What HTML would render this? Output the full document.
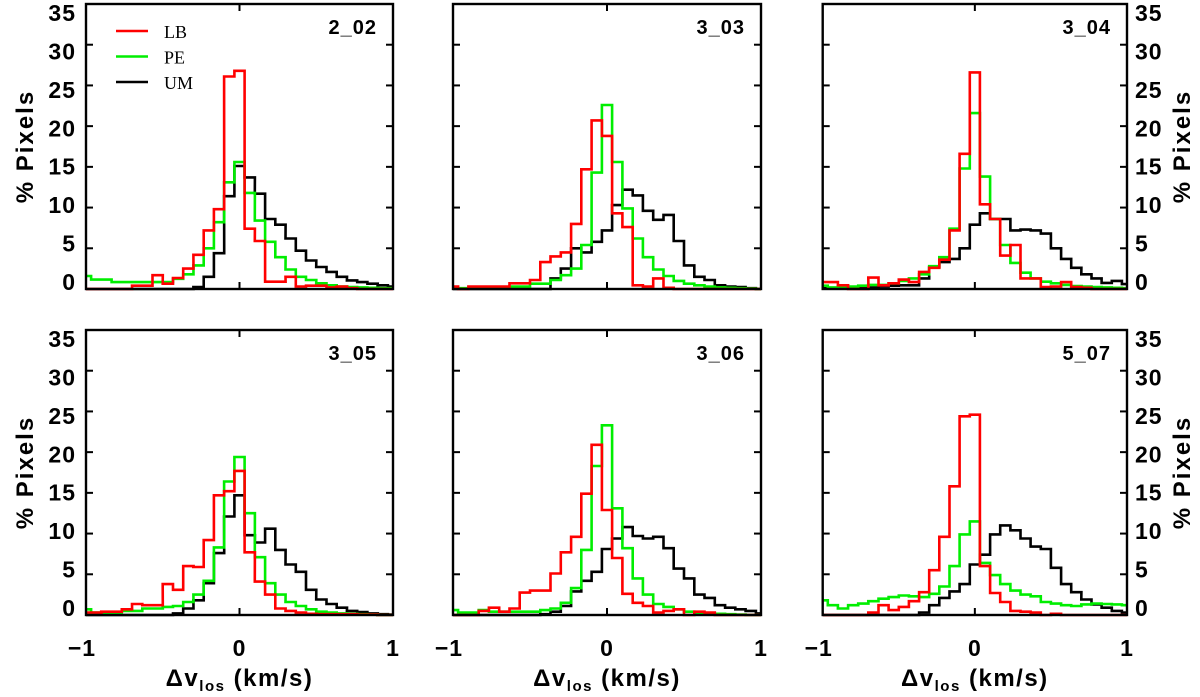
<!DOCTYPE html>
<html><head><meta charset="utf-8"><style>
body{margin:0;background:#fff}
svg{display:block;font-family:"Liberation Sans",sans-serif}
.tk{font-size:23px;font-weight:bold;letter-spacing:1px}
</style></head><body>
<svg id="fig" width="1200" height="697" viewBox="0 0 1200 697"></svg>
<script>
const binCenters=[-1,-0.9333,-0.8667,-0.8,-0.7333,-0.6667,-0.6,-0.5333,-0.4667,-0.4,-0.3333,-0.2667,-0.2,-0.1333,-0.0667,0,0.0667,0.1333,0.2,0.2667,0.3333,0.4,0.4667,0.5333,0.6,0.6667,0.7333,0.8,0.8667,0.9333,1];
const yTickLabels=["0","5","10","15","20","25","30","35"];
const yTickValues=[0,5,10,15,20,25,30,35];
const xTickLabels=["\u22121","0","1"];
const xTickValues=[-1,0,1];
const panelNames=["2_02","3_03","3_04","3_05","3_06","5_07"];
const lb_2_02=[0,0,0,0,0,0.4,0.4,1.7,0.65,1.35,2.5,4.2,7.2,9.8,26.1,26.8,7.4,5.9,0.9,0.9,1.5,0.3,0.4,0.4,0.2,0.3,0.1,0,0,0,0];
const pe_2_02=[1.6,1.15,1.15,0.85,0.85,0.85,0.85,0.85,0.85,1.25,1.8,2.9,5.0,8.2,13.1,15.6,11.8,8.4,5.8,3.9,2.4,1.5,1.1,0.7,0.45,0.3,0.25,0.2,0.15,0.1,0.1];
const um_2_02=[0,0,0,0,0,0,0,0,0,0,0,0.25,1.5,4.4,11.4,15.1,13.7,11.7,8.6,7.9,6.2,4.7,3.5,2.7,2.1,1.5,1.05,0.85,0.65,0.45,0.3];
const lb_3_03=[0.3,0,0.3,0.3,0.3,0.3,0.7,0.7,1.1,3.3,4.0,4.5,8.0,14.7,20.7,18.8,9.3,7.6,0.45,0.3,1.3,0.15,0,0,0,0,0,0,0,0,0];
const pe_3_03=[0.1,0.1,0.1,0.15,0.2,0.25,0.3,0.3,0.65,0.65,1.1,1.7,2.5,5.4,14.3,22.6,15.6,9.9,6.2,3.9,2.4,1.6,1.0,0.65,0.45,0.3,0.2,0.15,0.1,0.05,0];
const um_3_03=[0,0,0,0,0,0,0,0,0,0,1.3,2.5,5.0,4.5,5.8,7.2,10.3,12.2,11.5,9.6,8.5,9.1,5.9,2.9,1.5,1.1,0.45,0.3,0.25,0.1,0];
const lb_3_04=[0.85,0.85,0.45,0,0,1.4,0.45,0.7,1.15,0.85,2.1,2.6,3.6,7.2,16.6,26.6,10.4,8.6,4.1,5.4,1.3,1.3,0.25,0.3,0.85,0.25,0.15,0,0,0,0];
const pe_3_04=[0.4,0.2,0.3,0.3,0.4,0.5,0.5,0.7,1.0,1.3,1.8,2.8,3.9,7.4,14.8,21.6,13.8,8.6,5.4,3.2,2.0,1.3,0.9,0.7,0.5,0.35,0.3,0.25,0.2,0.15,0.1];
const um_3_04=[0.1,0.1,0.1,0.1,0.1,0.2,0.3,0.4,0.45,0.45,1.3,2.7,3.3,3.7,5.0,7.9,9.3,8.6,8.6,7.2,7.3,7.2,6.8,5.0,3.7,2.6,1.8,1.3,0.75,1.0,0.6];
const lb_3_05=[0.3,0.3,0.4,0.4,0.7,1.35,1.2,1.2,3.8,3.1,6.0,5.9,9.2,14.7,15.2,17.7,7.7,4.1,2.5,0.8,0.5,0.3,0.15,0.1,0.1,0.1,0.1,0.05,0.05,0,0];
const pe_3_05=[0.7,0.3,0.3,0.3,0.5,0.5,0.8,0.8,1.0,1.1,1.6,2.5,4.2,8.3,16.4,19.4,12.5,7.1,3.9,2.5,1.6,1.1,0.7,0.4,0.3,0.2,0.15,0.1,0.05,0,0];
const um_3_05=[0,0,0,0,0,0,0,0,0,0.2,0.8,1.8,3.9,7.6,12.1,14.7,9.8,8.9,10.6,8.0,6.2,5.3,3.1,1.9,1.35,0.9,0.5,0.35,0.2,0.1,0.05];
const lb_3_06=[0,0,0,0.5,0.9,0.4,0.8,2.75,3.0,3.0,5.1,7.7,9.6,14.9,20.9,12.9,7.0,2.6,1.5,1.1,0.3,0.5,0.7,0,0.4,0.3,0,0,0,0,0];
const pe_3_06=[0.6,0.3,0.3,0.6,0.4,0.4,0.4,0.4,0.4,0.6,0.8,1.5,3.3,8.0,18.3,23.3,13.1,8.2,4.5,2.5,1.35,1.0,0.7,0.4,0.2,0.2,0.15,0.1,0.05,0,0];
const um_3_06=[0,0,0,0,0,0,0,0,0,0.1,0.4,1.1,2.9,4.2,5.3,8.1,9.4,10.8,9.7,9.4,9.6,8.2,5.7,4.5,2.5,2.1,1.2,0.9,0.7,0.5,0.2];
const lb_5_07=[0,0,0,0,0,0.3,1.2,0.6,1.0,1.7,2.8,5.5,9.6,15.8,24.4,24.6,6.0,2.7,1.6,0.5,0.4,0.3,0,0.15,0,0,0,0,0,0,0];
const pe_5_07=[1.8,1.2,0.8,1.2,1.4,1.7,2.0,2.2,2.4,2.3,2.2,2.6,3.5,6.0,9.9,11.5,6.4,4.9,3.8,3.0,2.5,2.3,1.6,1.4,1.2,1.1,1.3,1.4,1.35,1.3,1.2];
const um_5_07=[0,0,0,0,0,0,0,0,0,0,0.3,1.2,2.1,2.9,3.8,6.2,7.4,9.9,11.0,10.4,9.4,8.4,8.1,5.8,3.8,2.8,1.9,1.3,0.9,0.5,0.3];
const lbSeries=[lb_2_02,lb_3_03,lb_3_04,lb_3_05,lb_3_06,lb_5_07];
const peSeries=[pe_2_02,pe_3_03,pe_3_04,pe_3_05,pe_3_06,pe_5_07];
const umSeries=[um_2_02,um_3_03,um_3_04,um_3_05,um_3_06,um_5_07];

const NS="http://www.w3.org/2000/svg";
const svg=document.getElementById('fig');
function mk(tag,attrs,parent){const e=document.createElementNS(NS,tag);for(const k in attrs)e.setAttribute(k,attrs[k]);(parent||svg).appendChild(e);return e;}
const lefts=[86,453,822.7], rights=[393,761,1127], tops=[4,330], bottoms=[289,615];
const binW=1/15;
for(let p=0;p<6;p++){
  const col=p%3,row=Math.floor(p/3);
  const L=lefts[col],R=rights[col],T=tops[row],B=bottoms[row];
  const xs=v=>L+(v+1)/2*(R-L);
  const ys=v=>B-v/35*(B-T);
  const yl=v=>(B-7)-v/35*(B-T-16);
  const g=mk('g',{});
  
  
  const series=[[umSeries[p],'#000','um'],[peSeries[p],'#00ee00','pe'],[lbSeries[p],'#ff0000','lb']];
  series.forEach(s=>{
    let d='';
    binCenters.forEach((c,i)=>{
      const x0=xs(Math.max(-1,c-binW/2)),x1=xs(Math.min(1,c+binW/2)),y=ys(s[0][i]);
      d+=(i===0?'M':'L')+x0.toFixed(1)+','+y.toFixed(1)+'L'+x1.toFixed(1)+','+y.toFixed(1);
    });
    const path=mk('path',{d:d,fill:'none',stroke:s[1],'stroke-width':2.6,'stroke-linejoin':'miter'},g);
    
    
  });
  const box=mk('rect',{x:L,y:T,width:R-L,height:B-T,fill:'none',stroke:'#000','stroke-width':2.4},g);
  
  
  yTickValues.forEach((v,i)=>{
    const y=ys(v);
    if(v>0&&v<35){mk('line',{x1:L,x2:L+7,y1:y,y2:y,stroke:'#000','stroke-width':2},g);mk('line',{x1:R-7,x2:R,y1:y,y2:y,stroke:'#000','stroke-width':2},g);}
    if(col===0){const t=mk('text',{x:L-10,y:yl(v)+8,'text-anchor':'end',class:'tk'},g);t.textContent=yTickLabels[i];
      }
    if(col===2){const t=mk('text',{x:R+8,y:yl(v)+8,'text-anchor':'start',class:'tk'},g);t.textContent=yTickLabels[i];
      }
  });
  const x0=xs(0);
  mk('line',{x1:x0,x2:x0,y1:B,y2:B-7,stroke:'#000','stroke-width':2},g);
  mk('line',{x1:x0,x2:x0,y1:T,y2:T+7,stroke:'#000','stroke-width':2},g);
  const lab=mk('text',{x:R-16,y:T+30,'text-anchor':'end','font-size':'20px','font-weight':'bold','letter-spacing':'1px'},g);
  lab.textContent=panelNames[p];
  
  
  if(row===1){
    xTickValues.forEach((v,i)=>{const t=mk('text',{x:xs(v)+(i===0?-4:0),y:656,'text-anchor':'middle',class:'tk'},g);t.textContent=xTickLabels[i];
      });
    const xt=mk('text',{x:(L+R)/2,y:686,'text-anchor':'middle','font-size':'24px','font-weight':'bold','letter-spacing':'1.5px'},g);
    xt.innerHTML='\u0394v<tspan font-size="15px" dy="5">los</tspan><tspan dy="-5"> (km/s)</tspan>';
    
    
  }
  if(col===0||col===2){
    const cx=col===0?25:1182, cy=(T+B)/2;
    const yt=mk('text',{x:cx,y:cy,'text-anchor':'middle','font-size':'24px','font-weight':'bold','letter-spacing':'2px',transform:'rotate(-90 '+cx+' '+cy+')',dy:'8'},g);
    yt.textContent='% Pixels';
    
    
  }
}
const legendLabels=["LB","PE","UM"], legendColors=["#ff0000","#00ee00","#000"];
legendLabels.forEach((n,i)=>{
  const g=mk('g',{});
  
  
  const y=31+i*25.5;
  mk('line',{x1:116,x2:148,y1:y,y2:y,stroke:legendColors[i],'stroke-width':2.4},g);
  const t=mk('text',{x:164,y:y+7,'font-family':'"Liberation Serif",serif','font-size':'18px'},g);
  t.textContent=n;
});
</script>
</body></html>
